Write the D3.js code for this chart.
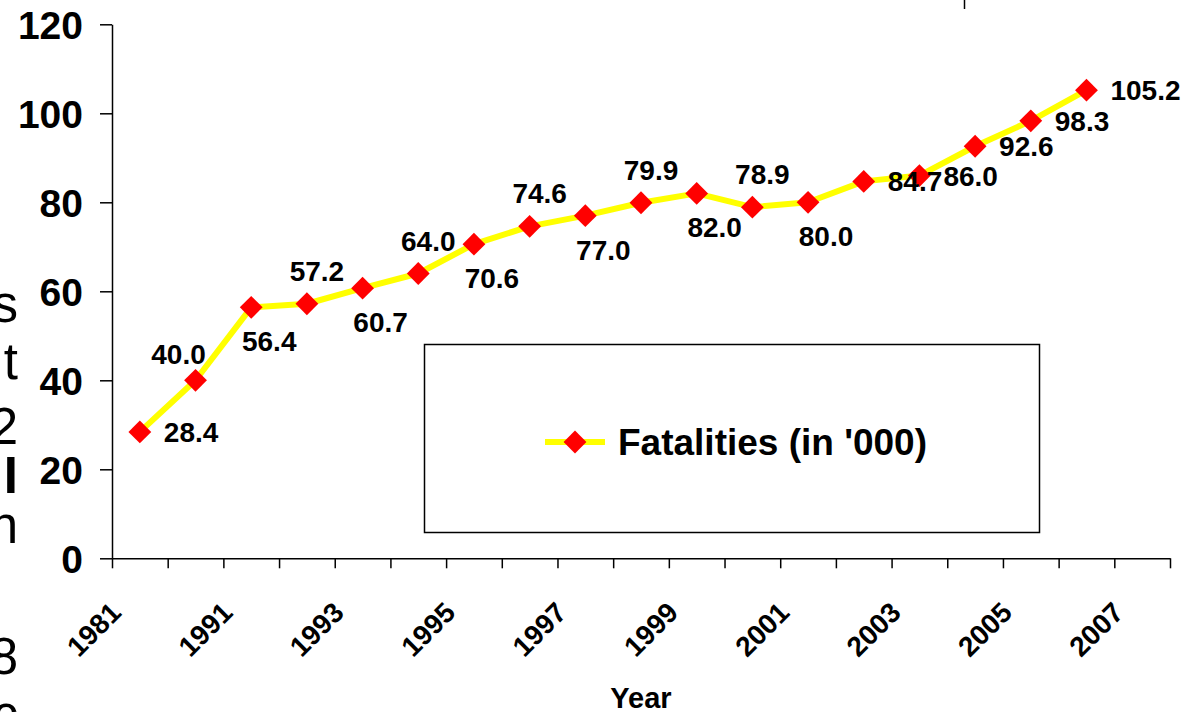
<!DOCTYPE html>
<html>
<head>
<meta charset="utf-8">
<script src="https://cdn.jsdelivr.net/npm/d3@7/dist/d3.min.js"></script>
<style>
  body { margin: 0; background: #fff; }
  svg { display: block; font-family: "Liberation Sans", Arial, sans-serif; }
  .axis path, .axis line { stroke: #000; stroke-width: 1.5; }
  .axis text { fill: #000; font-weight: bold; }
</style>
</head>
<body>
<div id="chart"></div>
<script>
// categories on the x axis (only every other one is labelled)
var years = ["1981", "1986", "1991", "1992", "1993", "1994", "1995", "1996", "1997",
             "1998", "1999", "2000", "2001", "2002", "2003", "2004", "2005", "2006", "2007"];

// fatalities in thousands, one per category (2007 has no value)
var fatalities = [28.4, 40.0, 56.4, 57.2, 60.7, 64.0, 70.6, 74.6, 77.0,
                  79.9, 82.0, 78.9, 80.0, 84.7, 86.0, 92.6, 98.3, 105.2, null];

// where each data label sits relative to its marker
var labelPlace = ["right", "aboveLeft", "below", "above", "below", "above", "below", "above", "below",
                  "above", "below", "above", "below", "right", "right", "right", "right", "right"];

var yTicks = [0, 20, 40, 60, 80, 100, 120];
var seriesName = "Fatalities (in '000)";
var xTitle = "Year";

var W = 1202, H = 712;
var plotLeft = 112, plotRight = 1170, plotTop = 24.3, plotBottom = 558.3;

var svg = d3.select("#chart").append("svg")
    .attr("width", W)
    .attr("height", H);

var x = d3.scaleBand().domain(years).range([plotLeft, plotRight]);
var xEdge = d3.scaleLinear().domain([0, years.length]).range([plotLeft, plotRight]);
var y = d3.scaleLinear().domain([0, 120]).range([plotBottom, plotTop]);

// clipped characters at the left edge (text from something next to the chart)
var edgeChars = [["s", 322, "normal"], ["t", 379, "normal"], ["2", 444, "normal"],
                 ["I", 493, "bold"], ["n", 543, "normal"], ["8", 674, "normal"], ["c", 732, "normal"]];
svg.append("g").selectAll("text")
    .data(edgeChars)
    .enter().append("text")
    .attr("x", 18)
    .attr("y", function(d) { return d[1]; })
    .attr("text-anchor", "end")
    .style("font-size", "51px")
    .style("font-weight", function(d) { return d[2]; })
    .text(function(d) { return d[0]; });

// little stray tick at the top
svg.append("line")
    .attr("x1", 964.5).attr("x2", 964.5)
    .attr("y1", 0).attr("y2", 9)
    .attr("stroke", "#000").attr("stroke-width", 1.5);

// y axis
var yAxis = d3.axisLeft(y)
    .tickValues(yTicks)
    .tickSize(12)
    .tickSizeOuter(0)
    .tickPadding(17);

svg.append("g")
    .attr("class", "y axis")
    .attr("transform", "translate(" + plotLeft + ",0)")
    .call(yAxis)
    .selectAll("text")
    .style("font-size", "39px")
    .attr("dy", "0.36em");

// x axis: ticks at the category edges
var xAxis = d3.axisBottom(xEdge)
    .tickValues(d3.range(0, years.length + 1))
    .tickSize(10)
    .tickSizeOuter(0)
    .tickFormat("");

svg.append("g")
    .attr("class", "x axis")
    .attr("transform", "translate(0," + plotBottom + ")")
    .call(xAxis);

svg.append("g").selectAll("text")
    .data(years.filter(function(d, i) { return i % 2 === 0; }))
    .enter().append("text")
    .attr("text-anchor", "end")
    .attr("transform", function(d) {
        return "translate(" + (x(d) + x.bandwidth() / 2 - 17) + "," + (plotBottom + 56) + ") rotate(-45)";
    })
    .style("font-size", "28px")
    .style("font-weight", "bold")
    .text(function(d) { return d; });

svg.append("text")
    .attr("x", 641)
    .attr("y", 708)
    .attr("text-anchor", "middle")
    .style("font-size", "29px")
    .style("font-weight", "bold")
    .text(xTitle);

// series
var points = fatalities.map(function(v, i) { return { year: years[i], value: v, i: i }; })
    .filter(function(d) { return d.value !== null; });

var cx = function(d) { return x(d.year) + x.bandwidth() / 2; };

var line = d3.line()
    .x(cx)
    .y(function(d) { return y(d.value); });

svg.append("path")
    .datum(points)
    .attr("fill", "none")
    .attr("stroke", "#ffff00")
    .attr("stroke-width", 6)
    .attr("stroke-linejoin", "round")
    .attr("d", line);

var diamond = d3.symbol().type(d3.symbolSquare).size(260);

svg.append("g").selectAll("path")
    .data(points)
    .enter().append("path")
    .attr("d", diamond)
    .attr("fill", "#ff0000")
    .attr("transform", function(d) {
        return "translate(" + cx(d) + "," + y(d.value) + ") rotate(45)";
    });

// data labels
var place = {
    right:     { dx: 24,  dy: 10, anchor: "start" },
    above:     { dx: 10,  dy: -23, anchor: "middle" },
    aboveLeft: { dx: -17, dy: -16, anchor: "middle" },
    below:     { dx: 18,  dy: 44, anchor: "middle" }
};

svg.append("g").selectAll("text")
    .data(points)
    .enter().append("text")
    .attr("x", function(d) { return cx(d) + place[labelPlace[d.i]].dx; })
    .attr("y", function(d) { return y(d.value) + place[labelPlace[d.i]].dy; })
    .attr("text-anchor", function(d) { return place[labelPlace[d.i]].anchor; })
    .style("font-size", "28px")
    .style("font-weight", "bold")
    .text(function(d) { return d3.format(".1f")(d.value); });

// legend
var legend = svg.append("g");

legend.append("rect")
    .attr("x", 424.5).attr("y", 344.5)
    .attr("width", 615).attr("height", 188)
    .attr("fill", "#fff")
    .attr("stroke", "#000")
    .attr("stroke-width", 1.5);

legend.append("line")
    .attr("x1", 545).attr("x2", 605)
    .attr("y1", 442).attr("y2", 442)
    .attr("stroke", "#ffff00")
    .attr("stroke-width", 6);

legend.append("path")
    .attr("d", diamond)
    .attr("fill", "#ff0000")
    .attr("transform", "translate(575,442) rotate(45)");

legend.append("text")
    .attr("x", 618)
    .attr("y", 455)
    .style("font-size", "37px")
    .style("font-weight", "bold")
    .text(seriesName);
</script>
</body>
</html>
